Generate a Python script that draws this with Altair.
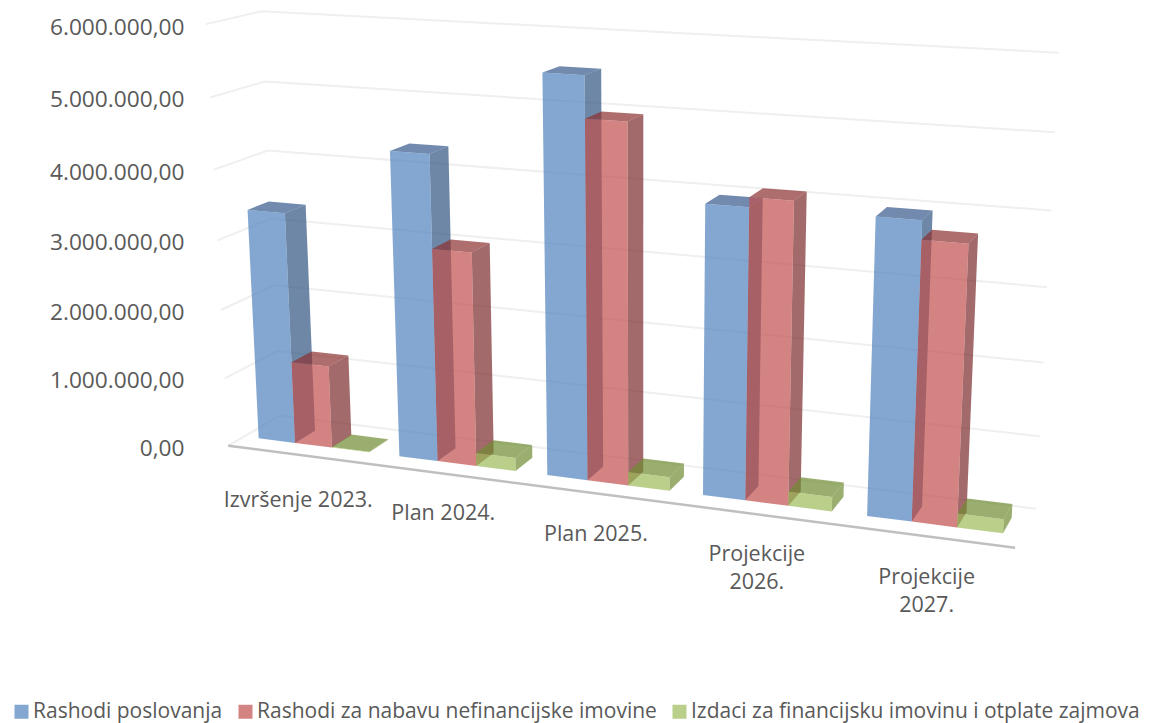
import altair as alt
import numpy as np
import pandas as pd

CATEGORIES = ["Izvršenje 2023.", "Plan 2024.", "Plan 2025.", "Projekcije\n2026.", "Projekcije\n2027."]
SERIES = ["Rashodi poslovanja", "Rashodi za nabavu nefinancijske imovine", "Izdaci za financijsku imovinu i otplate zajmova"]
POSLOVANJE = [3360000, 4350000, 5540000, 3970000, 3980000]
NABAVA = [1200000, 3040000, 4970000, 4100000, 3730000]
IZDACI = [10000, 190000, 190000, 200000, 190000]
VALUES = [POSLOVANJE, NABAVA, IZDACI]
TICKS = [0, 1000000, 2000000, 3000000, 4000000, 5000000, 6000000]
MAX_VALUE = 6000000

# Perspective camera of the 3D scene: (along categories, depth, height) -> page pixels
CAMERA = np.array([
    [661.88206, 64.04487, -32.64734, 228.29625],
    [34.61836, -11.68324, -422.76878, 445.68189],
    [-0.12308, 0.04417, -0.05080, 1.00000],
])
BAR_W = 1 / 19      # gap width 80 %
DEPTH = (0.3, 0.7)  # gap depth 150 %
LABEL_DROP = [35, 29, 31, 30, 31]

def U(c, s):
    return c / 5 + BAR_W * (0.4 + s)

def project(u, d, h):
    v = CAMERA @ np.array([u, d, h, 1.0])
    return v[0] / v[2] - 8, v[1] / v[2] - 8

KEYS = SERIES + ["s0", "s1", "s2", "t0", "t1", "t2"]
COLORS = ["#4F81BD", "#C0504D", "#9BBB59", "#305480", "#7B2B2B", "#6F8B32", "#34598A", "#8C3030", "#6F8B32"]
rows = []
fid = 0

def face(corners, key):
    global fid
    for i, (u, d, h) in enumerate(corners):
        x, y = project(u, d, h)
        rows.append(dict(x=x, y=y, seq=i, face=fid, key=key))
    fid += 1

for c in range(5):
    for s in range(3):
        u0, u1 = U(c, s), U(c, s) + BAR_W
        d0, d1 = DEPTH
        h = VALUES[s][c] / MAX_VALUE
        face([(u1, d0, 0), (u1, d1, 0), (u1, d1, h), (u1, d0, h)], f"s{s}")
        face([(u0, d0, h), (u1, d0, h), (u1, d1, h), (u0, d1, h)], f"t{s}")
        face([(u0, d0, 0), (u1, d0, 0), (u1, d0, h), (u0, d0, h)], SERIES[s])
bars = pd.DataFrame(rows)

gr = []
for t in TICKS:
    for i, (u, d) in enumerate([(0, 0), (0, 1), (1, 1)]):
        x, y = project(u, d, t / MAX_VALUE)
        gr.append(dict(x=x, y=y, seq=i, tick=t))
grid = pd.DataFrame(gr)
ax = pd.DataFrame([dict(zip("xy", project(u, 0, 0)), seq=i) for i, u in enumerate([0, 1])])
lab = []
for c, t in enumerate(CATEGORIES):
    x, y = project((c + 0.5) / 5, 0, 0)
    lab.append(dict(x=x, y=y + LABEL_DROP[c], t=t))
labels = pd.DataFrame(lab)

WIDTH, HEIGHT = 1133, 715
X = alt.X("x:Q", scale=alt.Scale(domain=[0, WIDTH], range=[0, WIDTH]), axis=None)
Y = alt.Y("y:Q", scale=alt.Scale(domain=[0, HEIGHT], range=[0, HEIGHT]), axis=None)
FONT = "Open Sans"
TEXT = "#595959"
gridl = alt.Chart(grid).mark_line(color="#EFEFEF", strokeWidth=2).encode(X, Y, detail="tick:N", order="seq:Q")
axl = alt.Chart(ax).mark_line(color="#BFBFBF", strokeWidth=2.5).encode(X, Y, order="seq:Q")
barl = alt.Chart(bars).mark_line(filled=True, opacity=0.7, strokeWidth=0).encode(
    X, Y, detail="face:N", order="seq:Q",
    fill=alt.Fill("key:N", scale=alt.Scale(domain=KEYS, range=COLORS),
        legend=alt.Legend(values=SERIES, orient="none", legendX=3, legendY=693, direction="horizontal", title=None, columns=3,
            symbolType="square", symbolSize=196, labelFont=FONT, labelFontSize=21, labelColor=TEXT,
            columnPadding=12, labelOffset=1, labelLimit=600)))
txt = alt.Chart(labels).mark_text(font=FONT, fontSize=21.5, color=TEXT, lineBreak="\n", lineHeight=28,
                                  baseline="top", align="center").encode(X, Y, text="t:N")
yaxis = alt.Chart(pd.DataFrame({"v": TICKS})).mark_rule(opacity=0).encode(y=alt.Y("v:Q",
    scale=alt.Scale(domain=TICKS, range=[440, 372, 304, 234, 164, 91, 19], zero=False, nice=False),
    axis=alt.Axis(orient="left", offset=-180, values=TICKS, title=None, domain=False, ticks=False, grid=False, labelPadding=4,
        labelFont=FONT, labelFontSize=22.7, labelColor=TEXT,
        labelExpr="replace(replace(replace(format(datum.value,',.2f'),/,/g,'#'),'.',','),/#/g,'.')")))
chart = alt.layer(gridl, axl, barl, txt, yaxis).resolve_scale(y="independent").properties(
    width=WIDTH, height=HEIGHT, padding=0, autosize=alt.AutoSizeParams(type="none")).configure_view(stroke=None)
chart.save("out.html", embed_options={"renderer": "svg", "actions": False})
